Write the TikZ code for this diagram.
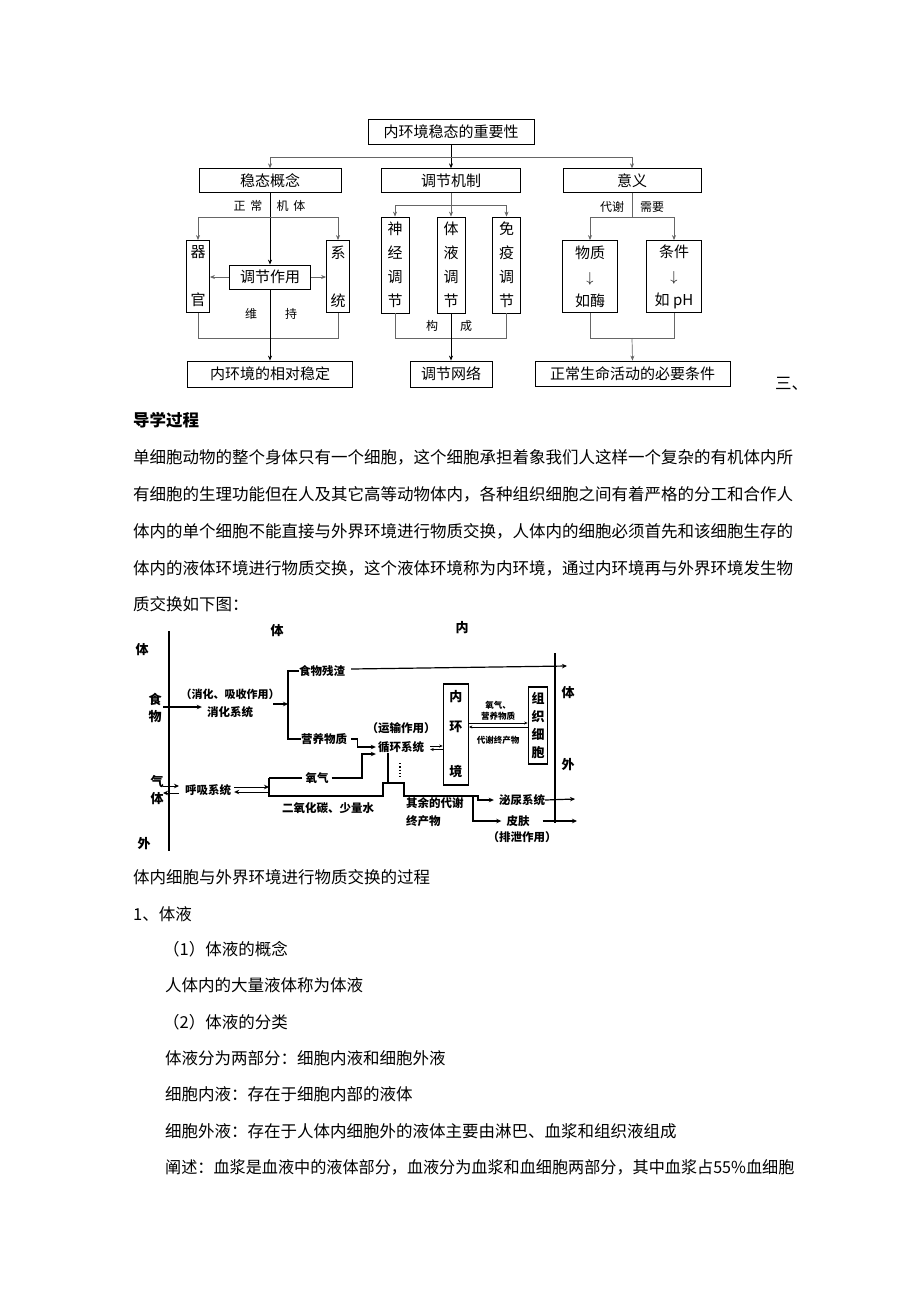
\documentclass[tikz,border=0pt]{standalone}
\usepackage{fontspec}
\setmainfont{Noto Sans CJK SC}
\usetikzlibrary{arrows.meta, positioning}

\begin{document}
\begin{tikzpicture}[x=1pt, y=-1pt,
    topbox/.style={draw, line width=0.8pt, inner sep=0pt, align=center, font=\fontsize{15}{18}\selectfont},
    vertbox/.style={topbox, font=\fontsize{15}{24}\selectfont},
    smalllab/.style={inner sep=0pt, font=\fontsize{12}{12}\selectfont},
    thinline/.style={draw=black!60, line width=0.7pt},
    thickline/.style={draw=black, line width=1pt},
    arrowtip/.style={-{Stealth[length=5pt, width=4pt]}},
    bodytext/.style={anchor=west, inner sep=0pt, font=\fontsize{16.5}{20}\selectfont},
    scantext/.style={inner sep=0pt, align=center, font=\bfseries\fontsize{11.5}{14}\selectfont},
    scanbig/.style={scantext, font=\bfseries\fontsize{13}{17}\selectfont},
    scantiny/.style={scantext, font=\bfseries\fontsize{8.5}{11}\selectfont},
    scanline/.style={draw, line width=1.2pt},
    scantip/.style={-{Stealth[length=5pt, width=4.5pt]}},
    minitip/.style={line width=0.9pt, -{Stealth[length=3.5pt, width=3pt]}}
]
    \useasboundingbox[fill=white] (0,0) rectangle (920,1302);

    % ---- top concept map
    \node[topbox, minimum width=166pt, minimum height=25pt] (importance) at (451,131.5) {内环境稳态的重要性};
    \node[topbox, minimum width=142pt, minimum height=23.5pt] (concept) at (270,180.5) {稳态概念};
    \node[topbox, minimum width=139pt, minimum height=23.5pt] (mechanism) at (451,180.5) {调节机制};
    \node[topbox, minimum width=138pt, minimum height=23.5pt] (meaning) at (632,180.5) {意义};

    \node[vertbox, minimum width=23pt, minimum height=72pt] (organ) at (198,276.5) {器\\[24pt]官};
    \node[vertbox, minimum width=23pt, minimum height=72pt] (system) at (338,276.5) {系\\[24pt]统};
    \node[topbox, minimum width=81pt, minimum height=24pt] (regulate) at (270,277) {调节作用};
    \node[topbox, minimum width=165pt, minimum height=26pt] (steady) at (270,374) {内环境的相对稳定};

    \node[vertbox, minimum width=28pt, minimum height=96pt] (nerve) at (395,265) {神\\经\\调\\节};
    \node[vertbox, minimum width=28pt, minimum height=96pt] (humoral) at (451,265) {体\\液\\调\\节};
    \node[vertbox, minimum width=28pt, minimum height=96pt] (immune) at (506.5,265) {免\\疫\\调\\节};
    \node[topbox, minimum width=82pt, minimum height=26pt] (network) at (451,374) {调节网络};

    \node[vertbox, minimum width=55pt, minimum height=72pt] (matter) at (590,276.5) {物质\\$\downarrow$\\如酶};
    \node[vertbox, minimum width=55pt, minimum height=72pt] (condition) at (674,276.5) {条件\\$\downarrow$\\如 pH};
    \node[topbox, minimum width=195pt, minimum height=25pt] (necessary) at (632.5,373.5) {正常生命活动的必要条件};

    \node[smalllab] (zhengchang) at (248,205.5) {正\hspace{5pt}常};
    \node[smalllab] (jiti) at (291,205.5) {机\hspace{5pt}体};
    \node[smalllab] (wei) at (251,314) {维};
    \node[smalllab] (chi) at (291,314) {持};
    \node[smalllab] (gou) at (432,326) {构};
    \node[smalllab] (cheng) at (466,326) {成};
    \node[smalllab] (daixie) at (612,207) {代谢};
    \node[smalllab] (xuyao) at (652,207) {需要};

    \coordinate (split1) at (270,157);
    \coordinate (split3) at (632,157);
    \draw[thickline, arrowtip] (importance.south) -- (mechanism.north);
    \draw[thinline] (split1) -- (split3);
    \draw[thinline, arrowtip] (split1) -- (concept.north);
    \draw[thinline, arrowtip] (split3) -- (meaning.north);

    \coordinate (cfork) at (270,217);
    \coordinate (cjoin) at (270,338);
    \draw[thickline, arrowtip] (concept.south) -- (regulate.north);
    \draw[thinline] (organ.north |- cfork) -- (system.north |- cfork);
    \draw[thinline, arrowtip] (organ.north |- cfork) -- (organ.north);
    \draw[thinline, arrowtip] (system.north |- cfork) -- (system.north);
    \draw[thinline, arrowtip] (regulate.west) -- (organ.east |- regulate.west);
    \draw[thinline, arrowtip] (regulate.east) -- (system.west |- regulate.east);
    \draw[thinline] (organ.south) -- (organ.south |- cjoin) -- (system.south |- cjoin) -- (system.south);
    \draw[thickline, arrowtip] (regulate.south) -- (steady.north);

    \coordinate (mfork) at (451,205);
    \coordinate (mjoin) at (451,338);
    \draw[thinline] (mechanism.south) -- (mfork);
    \draw[thinline] (nerve.north |- mfork) -- (immune.north |- mfork);
    \draw[thinline, arrowtip] (nerve.north |- mfork) -- (nerve.north);
    \draw[thinline, arrowtip] (mfork) -- (humoral.north);
    \draw[thinline, arrowtip] (immune.north |- mfork) -- (immune.north);
    \draw[thinline] (nerve.south) -- (nerve.south |- mjoin) -- (immune.south |- mjoin) -- (immune.south);
    \draw[thickline, arrowtip] (humoral.south) -- (network.north);

    \coordinate (rfork) at (632,217);
    \coordinate (rjoin) at (632,338);
    \draw[thinline] (meaning.south) -- (rfork);
    \draw[thinline] (matter.north |- rfork) -- (condition.north |- rfork);
    \draw[thinline, arrowtip] (matter.north |- rfork) -- (matter.north);
    \draw[thinline, arrowtip] (condition.north |- rfork) -- (condition.north);
    \draw[thinline] (matter.south) -- (matter.south |- rjoin) -- (condition.south |- rjoin) -- (condition.south);
    \draw[thinline, arrowtip] (rjoin) -- (necessary.north);

    \node[bodytext] (san) at (775,384) {三、};

    % ---- guide text
    \node[bodytext, font=\bfseries\fontsize{16.5}{20}\selectfont] (daoxue) at (133,420) {导学过程};
    \node[bodytext] (line1) at (133,457) {单细胞动物的整个身体只有一个细胞，这个细胞承担着象我们人这样一个复杂的有机体内所};
    \node[bodytext] (line2) at (133,494) {有细胞的生理功能但在人及其它高等动物体内，各种组织细胞之间有着严格的分工和合作人};
    \node[bodytext] (line3) at (133,531) {体内的单个细胞不能直接与外界环境进行物质交换，人体内的细胞必须首先和该细胞生存的};
    \node[bodytext] (line4) at (133,568) {体内的液体环境进行物质交换，这个液体环境称为内环境，通过内环境再与外界环境发生物};
    \node[bodytext] (line5) at (133,604) {质交换如下图：};

    % ---- exchange scheme
    \coordinate (axisLtop) at (169,631);
    \coordinate (axisLbot) at (169,851);
    \coordinate (axisRtop) at (555,653);
    \coordinate (axisRbot) at (555,823);
    \draw[scanline] (axisLtop) -- (axisLbot);
    \draw[scanline] (axisRtop) -- (axisRbot);

    \node[scanbig] (tiL) at (142,650) {体};
    \node[scanbig] (food) at (155,707.5) {食\\物};
    \node[scanbig] (gas) at (157,790) {气\\体};
    \node[scanbig] (waiL) at (144,844) {外};
    \node[scanbig] (tiTop) at (277,631) {体};
    \node[scanbig] (neiTop) at (462,628) {内};
    \node[scanbig] (tiR) at (568,693) {体};
    \node[scanbig] (waiR) at (568,765) {外};

    \node[scantext, font=\bfseries\fontsize{11}{14}\selectfont] (xhnote) at (230,694) {（消化、吸收作用）};
    \node[scantext] (xhname) at (230,711.7) {消化系统};
    \node[scantext] (canyu) at (322,671) {食物残渣};
    \node[scantext] (yingyang) at (324,739) {营养物质};
    \node[scantext] (huxi) at (208,790) {呼吸系统};
    \node[scantext] (yangqi) at (317,778) {氧气};
    \node[scantext] (co2) at (328,808) {二氧化碳、少量水};
    \node[scantext] (yunshu) at (401,728) {（运输作用）};
    \node[scantext] (xunhuan) at (401,747) {循环系统};
    \node[scantext, align=left, anchor=west, font=\bfseries\fontsize{11.5}{18}\selectfont] (qiyu) at (406,812) {其余的代谢\\终产物};
    \node[scanbig, draw, line width=1.2pt, minimum width=25pt, minimum height=101pt, font=\bfseries\fontsize{13}{14}\selectfont] (neihuan) at (455.8,734.5) {内\\[16pt]环\\[31pt]境};
    \node[scanbig, draw, line width=1.2pt, minimum width=19.5pt, minimum height=77pt, font=\bfseries\fontsize{13}{18}\selectfont] (zuzhi) at (538,725.5) {组\\织\\细\\胞};
    \node[scantiny] (supply) at (498,710.5) {氧气、\\营养物质};
    \node[scantiny] (waste) at (498,740) {代谢终产物};
    \node[scantext] (miniao) at (522,800) {泌尿系统};
    \node[scantext] (pifu) at (518,821) {皮肤};
    \node[scantext] (paixie) at (522,837) {（排泄作用）};

    % food and digestion
    \coordinate (foodin) at (163,707);
    \coordinate (xhout) at (273,704);
    \coordinate (brtop) at (288,671);
    \coordinate (brbot) at (288,739);
    \coordinate (canyuend) at (567,666);
    \draw[scanline, scantip, shorten >=5pt] (foodin) -- (xhname.west |- foodin);
    \draw[scanline, scantip] (xhout) -- (brtop |- xhout);
    \draw[scanline] (canyu.west) -- (brtop) -- (brbot) -- (yingyang.west);
    \draw[scanline, scantip] ([xshift=6pt, yshift=2pt]canyu.east) -- (canyuend);
    \draw[scanline, scantip, shorten >=2pt] (yingyang.east) ++(4,0) -- ++(6,0) |- (xunhuan.west);

    % breathing
    \coordinate (gasin) at (163,786);
    \coordinate (gasout) at (179,793);
    \coordinate (ocorner) at (269,778);
    \coordinate (obend) at (362,778);
    \coordinate (bumptop) at (388,783);
    \coordinate (exsplit) at (473,796);
    \draw[line width=1pt, scantip] (gasin) -- (gasin -| gasout);
    \draw[line width=1pt, scantip] (gasout) -- (gasout -| gasin);
    \draw[line width=1pt, scantip] ([xshift=3pt, yshift=3pt]huxi.east) -- ([yshift=3pt]huxi.east -| ocorner);
    \draw[line width=1pt, scantip] ([yshift=-2pt]huxi.east -| ocorner) -- ([xshift=3pt, yshift=-2pt]huxi.east);
    \draw[scanline] ([xshift=-3pt]yangqi.west) -- (ocorner);
    \draw[scanline, scantip, shorten >=2pt] ([xshift=3pt]yangqi.east) -- (obend) |- ([yshift=-7pt]xunhuan.west);
    \draw[scanline] (ocorner) -- (269,796) -- (383,796) -- (383,783) -- (404,783) -- (404,796) -- (exsplit);
    \draw[scanline] (bumptop |- xunhuan.south) -- (bumptop);
    \draw[line width=1.3pt, dotted] (400,763) -- (400,777);

    % internal environment
    \coordinate (exchtop) at (498,723);
    \coordinate (exchbot) at (498,727);
    \draw[minitip] ([xshift=6pt, yshift=1pt]xunhuan.east) -- ([yshift=1pt]xunhuan.east -| neihuan.west);
    \draw[minitip] ([yshift=-2.5pt]xunhuan.east -| neihuan.west) -- ([xshift=6pt, yshift=-2.5pt]xunhuan.east);
    \draw[minitip] (exchtop -| neihuan.east) -- (exchtop -| zuzhi.west);
    \draw[minitip] (exchbot -| zuzhi.west) -- (exchbot -| neihuan.east);

    % excretion
    \coordinate (miniaoout) at (575,799);
    \coordinate (pifuout) at (577,821);
    \draw[scanline, scantip, shorten >=5pt] (exsplit) -- ++(5,0) |- (miniao.west);
    \draw[scanline, scantip, shorten >=5pt] (exsplit) |- (pifu.west);
    \draw[scanline, scantip] (miniao.east) -- (miniaoout);
    \draw[scanline, scantip] ([xshift=13pt]pifu.east) -- (pifuout);

    % ---- body fluids
    \node[bodytext] (caption) at (133,877) {体内细胞与外界环境进行物质交换的过程};
    \node[bodytext] (sec1) at (133,914) {1、体液};
    \node[bodytext] (sub1) at (163,949) {（1）体液的概念};
    \node[bodytext] (def1) at (165,985) {人体内的大量液体称为体液};
    \node[bodytext] (sub2) at (163,1022) {（2）体液的分类};
    \node[bodytext] (def2) at (165,1058) {体液分为两部分：细胞内液和细胞外液};
    \node[bodytext] (def3) at (165,1094) {细胞内液：存在于细胞内部的液体};
    \node[bodytext] (def4) at (165,1131) {细胞外液：存在于人体内细胞外的液体主要由淋巴、血浆和组织液组成};
    \node[bodytext] (def5) at (165,1167) {\scalebox{0.977}[1]{阐述：血浆是血液中的液体部分，血液分为血浆和血细胞两部分，其中血浆占55\%血细胞}};
\end{tikzpicture}
\end{document}
